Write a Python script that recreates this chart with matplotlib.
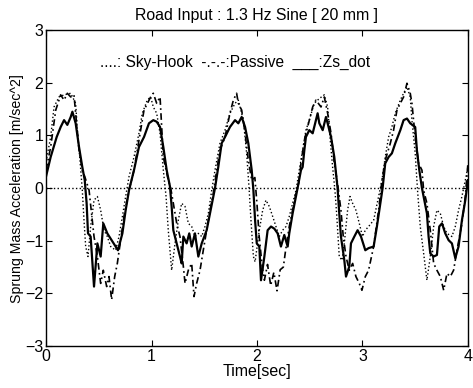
import matplotlib
matplotlib.use("Agg")
import matplotlib.pyplot as plt

plt.rcParams['font.family'] = ['Liberation Sans', 'DejaVu Sans']

# Zs_dot (solid)
t_zs = [0.000, 0.044, 0.101, 0.139, 0.171, 0.202, 0.234, 0.250, 0.281, 0.313,
        0.344, 0.367, 0.385, 0.398, 0.423, 0.455, 0.487, 0.518, 0.543, 0.581,
        0.613, 0.660, 0.682, 0.724, 0.755, 0.787, 0.834, 0.881, 0.929, 0.976,
        1.017, 1.049, 1.081, 1.112, 1.144, 1.175, 1.191, 1.207, 1.239, 1.270,
        1.286, 1.302, 1.333, 1.358, 1.381, 1.412, 1.444, 1.476, 1.523, 1.555,
        1.602, 1.633, 1.665, 1.697, 1.744, 1.792, 1.823, 1.855, 1.887, 1.918,
        1.950, 1.966, 1.982, 1.998, 2.022, 2.038, 2.070, 2.101, 2.133, 2.164,
        2.196, 2.227, 2.259, 2.291, 2.306, 2.338, 2.370, 2.385, 2.417, 2.433,
        2.449, 2.464, 2.496, 2.528, 2.559, 2.575, 2.591, 2.623, 2.654, 2.670,
        2.702, 2.733, 2.764, 2.780, 2.796, 2.828, 2.844, 2.875, 2.891, 2.923,
        2.954, 2.986, 3.027, 3.058, 3.106, 3.137, 3.169, 3.191, 3.216, 3.248,
        3.279, 3.311, 3.359, 3.390, 3.422, 3.453, 3.500, 3.516, 3.539, 3.564,
        3.580, 3.611, 3.627, 3.643, 3.675, 3.706, 3.728, 3.754, 3.785, 3.817,
        3.848, 3.880, 3.911, 3.943, 3.975, 4.000]
zs_dot = [0.22, 0.59, 0.97, 1.16, 1.29, 1.20, 1.35, 1.45, 1.23, 0.78,
          0.40, 0.15, -0.29, -0.86, -0.92, -1.87, -1.05, -1.30, -0.67, -0.86,
          -0.96, -1.11, -1.18, -0.86, -0.42, -0.04, 0.34, 0.78, 0.97, 1.23,
          1.29, 1.26, 1.16, 0.78, 0.34, 0.03, -0.35, -0.80, -1.05, -1.30,
          -1.43, -0.92, -1.05, -0.86, -1.11, -0.86, -1.30, -1.05, -0.80, -0.48,
          0.00, 0.40, 0.85, 0.97, 1.16, 1.29, 1.23, 1.35, 1.16, 0.85,
          0.34, -0.04, -0.61, -1.05, -1.11, -1.75, -1.30, -0.80, -0.73, -0.77,
          -0.86, -1.11, -0.89, -1.11, -0.86, -0.48, -0.16, 0.00, 0.34, 0.40,
          0.72, 0.97, 1.10, 1.04, 1.29, 1.42, 1.23, 1.10, 1.35, 1.23,
          0.97, 0.59, 0.00, -0.48, -0.92, -1.37, -1.68, -1.49, -1.05, -0.92,
          -0.80, -0.92, -1.18, -1.14, -1.11, -0.73, -0.29, 0.00, 0.47, 0.59,
          0.66, 0.85, 1.10, 1.29, 1.32, 1.23, 1.16, 0.72, 0.34, 0.00,
          -0.16, -0.48, -0.92, -1.24, -1.30, -1.27, -0.73, -0.67, -0.86, -0.99,
          -1.05, -1.33, -1.11, -0.61, -0.23, 0.15]

# Passive (dash-dot)
t_passive = [0.000, 0.044, 0.092, 0.139, 0.171, 0.202, 0.234, 0.265, 0.310, 0.344,
             0.367, 0.408, 0.455, 0.487, 0.518, 0.543, 0.575, 0.597, 0.622, 0.651,
             0.676, 0.739, 0.787, 0.834, 0.897, 0.929, 0.992, 1.017, 1.049, 1.081,
             1.112, 1.159, 1.182, 1.207, 1.239, 1.270, 1.302, 1.318, 1.349, 1.381,
             1.403, 1.428, 1.460, 1.491, 1.523, 1.555, 1.586, 1.618, 1.649, 1.697,
             1.744, 1.776, 1.807, 1.823, 1.855, 1.887, 1.918, 1.950, 1.980, 2.000,
             2.020, 2.050, 2.070, 2.100, 2.130, 2.160, 2.190, 2.220, 2.250, 2.270,
             2.306, 2.338, 2.370, 2.395, 2.417, 2.449, 2.480, 2.528, 2.559, 2.607,
             2.638, 2.670, 2.702, 2.733, 2.764, 2.796, 2.818, 2.844, 2.875, 2.907,
             2.938, 2.970, 2.995, 3.027, 3.058, 3.106, 3.153, 3.185, 3.216, 3.264,
             3.295, 3.327, 3.359, 3.390, 3.422, 3.453, 3.469, 3.500, 3.532, 3.564,
             3.580, 3.611, 3.643, 3.675, 3.706, 3.738, 3.770, 3.801, 3.833, 3.864,
             3.896, 3.943, 3.975, 4.000]
passive = [0.34, 0.78, 1.48, 1.77, 1.67, 1.80, 1.73, 1.77, 0.78, 0.34,
           0.22, -0.04, -0.92, -1.30, -1.81, -1.56, -1.87, -1.68, -2.12, -1.68,
           -1.43, -0.54, -0.04, 0.34, 1.10, 1.48, 1.73, 1.80, 1.61, 1.73,
           0.59, 0.15, 0.00, -0.29, -0.67, -0.92, -1.49, -1.81, -1.56, -1.43,
           -2.06, -1.81, -1.56, -1.18, -0.80, -0.42, -0.10, 0.34, 0.72, 0.97,
           1.42, 1.67, 1.80, 1.61, 1.48, 1.04, 0.53, 0.15, 0.20, -0.30,
           -0.90, -1.50, -1.75, -1.45, -1.85, -1.60, -1.95, -1.55, -1.50, -1.20,
           -0.73, -0.42, -0.10, 0.09, 0.47, 0.91, 1.16, 1.54, 1.67, 1.54,
           1.73, 1.42, 1.04, 0.47, 0.09, -0.42, -0.92, -1.30, -1.56, -1.43,
           -1.68, -1.81, -1.94, -1.68, -1.56, -1.11, -0.42, 0.15, 0.53, 0.85,
           1.10, 1.48, 1.61, 1.73, 1.99, 1.80, 1.61, 0.97, 0.47, 0.34,
           -0.04, -0.29, -0.80, -1.43, -1.56, -1.68, -1.94, -1.62, -1.68, -1.56,
           -1.18, -0.67, -0.16, 0.47]

# Sky-Hook (dotted)
t_sky = [0.000, 0.044, 0.076, 0.123, 0.171, 0.234, 0.281, 0.297, 0.322, 0.344,
         0.360, 0.376, 0.398, 0.423, 0.455, 0.487, 0.518, 0.550, 0.581, 0.613,
         0.660, 0.692, 0.724, 0.755, 0.787, 0.834, 0.881, 0.913, 0.960, 0.992,
         1.017, 1.049, 1.081, 1.112, 1.138, 1.159, 1.191, 1.223, 1.254, 1.286,
         1.318, 1.349, 1.381, 1.412, 1.444, 1.476, 1.507, 1.539, 1.571, 1.602,
         1.649, 1.697, 1.744, 1.792, 1.823, 1.871, 1.902, 1.924, 1.943, 1.966,
         1.982, 2.022, 2.054, 2.085, 2.117, 2.149, 2.180, 2.212, 2.243, 2.275,
         2.306, 2.338, 2.370, 2.401, 2.433, 2.464, 2.496, 2.543, 2.591, 2.638,
         2.670, 2.692, 2.717, 2.739, 2.755, 2.780, 2.806, 2.828, 2.859, 2.882,
         2.907, 2.938, 2.970, 3.000, 3.027, 3.058, 3.106, 3.153, 3.185, 3.216,
         3.248, 3.279, 3.311, 3.359, 3.390, 3.422, 3.453, 3.469, 3.500, 3.522,
         3.548, 3.580, 3.611, 3.643, 3.675, 3.706, 3.738, 3.770, 3.801, 3.848,
         3.880, 3.911, 3.943, 3.975, 4.000]
sky_hook = [0.50, 0.97, 1.54, 1.73, 1.77, 1.80, 1.61, 1.10, 0.53, -0.04,
            -0.61, -1.11, -1.30, -0.73, -0.23, -0.16, -0.42, -0.80, -0.92, -1.11,
            -1.18, -0.92, -0.54, -0.16, 0.22, 0.59, 1.04, 1.42, 1.67, 1.73,
            1.54, 1.42, 1.04, 0.34, -0.16, -0.80, -1.56, -1.05, -0.61, -0.29,
            -0.35, -0.67, -0.73, -0.92, -0.86, -0.92, -0.73, -0.48, -0.04, 0.34,
            0.85, 1.10, 1.42, 1.61, 1.67, 1.29, 0.66, 0.03, -0.61, -1.30,
            -1.40, -0.80, -0.42, -0.23, -0.35, -0.54, -0.73, -0.92, -0.80, -0.73,
            -0.54, -0.29, -0.04, 0.34, 0.72, 1.10, 1.29, 1.61, 1.70, 1.77,
            1.54, 0.97, 0.40, -0.04, -0.48, -1.30, -1.37, -1.05, -0.42, -0.16,
            -0.29, -0.42, -0.67, -0.92, -0.80, -0.73, -0.61, -0.16, 0.15, 0.59,
            0.97, 1.16, 1.42, 1.67, 1.80, 1.92, 1.73, 1.29, 0.66, -0.04,
            -0.73, -1.24, -1.75, -1.30, -0.73, -0.42, -0.48, -0.73, -0.86, -0.92,
            -0.73, -0.42, -0.16, 0.15, 0.40]

x_ticks = [0, 1, 2, 3, 4]
y_ticks = [-3, -2, -1, 0, 1, 2, 3]

fig = plt.figure(figsize=(4.73, 3.88), dpi=100)
ax = fig.add_axes([0.0973, 0.108, 0.892, 0.8145])

ax.plot(t_sky, sky_hook, color='black', linestyle=':', linewidth=1.0)
ax.plot(t_passive, passive, color='black', linestyle='-.', linewidth=1.2,
        dashes=(4, 2, 1, 2))
ax.plot(t_zs, zs_dot, color='black', linestyle='-', linewidth=1.6)
ax.axhline(0, color='black', linestyle=':', linewidth=1.0)

ax.set_xlim(0, 4)
ax.set_ylim(-3, 3)
ax.set_xticks(x_ticks)
ax.set_yticks(y_ticks)
ax.tick_params(direction='in', top=True, right=True, length=4, width=0.8,
               labelsize=11.5, pad=2)
for s in ax.spines.values():
    s.set_linewidth(1.0)

ax.text(0.51, 2.39, '....: Sky-Hook  -.-.-:Passive  ___:Zs_dot',
        fontsize=11.2, va='center', ha='left')

ax.set_title('Road Input : 1.3 Hz Sine [ 20 mm ]', fontsize=11.4, pad=7)
ax.set_xlabel('Time[sec]', fontsize=11.5, labelpad=0)
ax.set_ylabel('Sprung Mass Acceleration [m/sec^2]', fontsize=10.2, labelpad=1)

fig.savefig('out.png', dpi=100)
